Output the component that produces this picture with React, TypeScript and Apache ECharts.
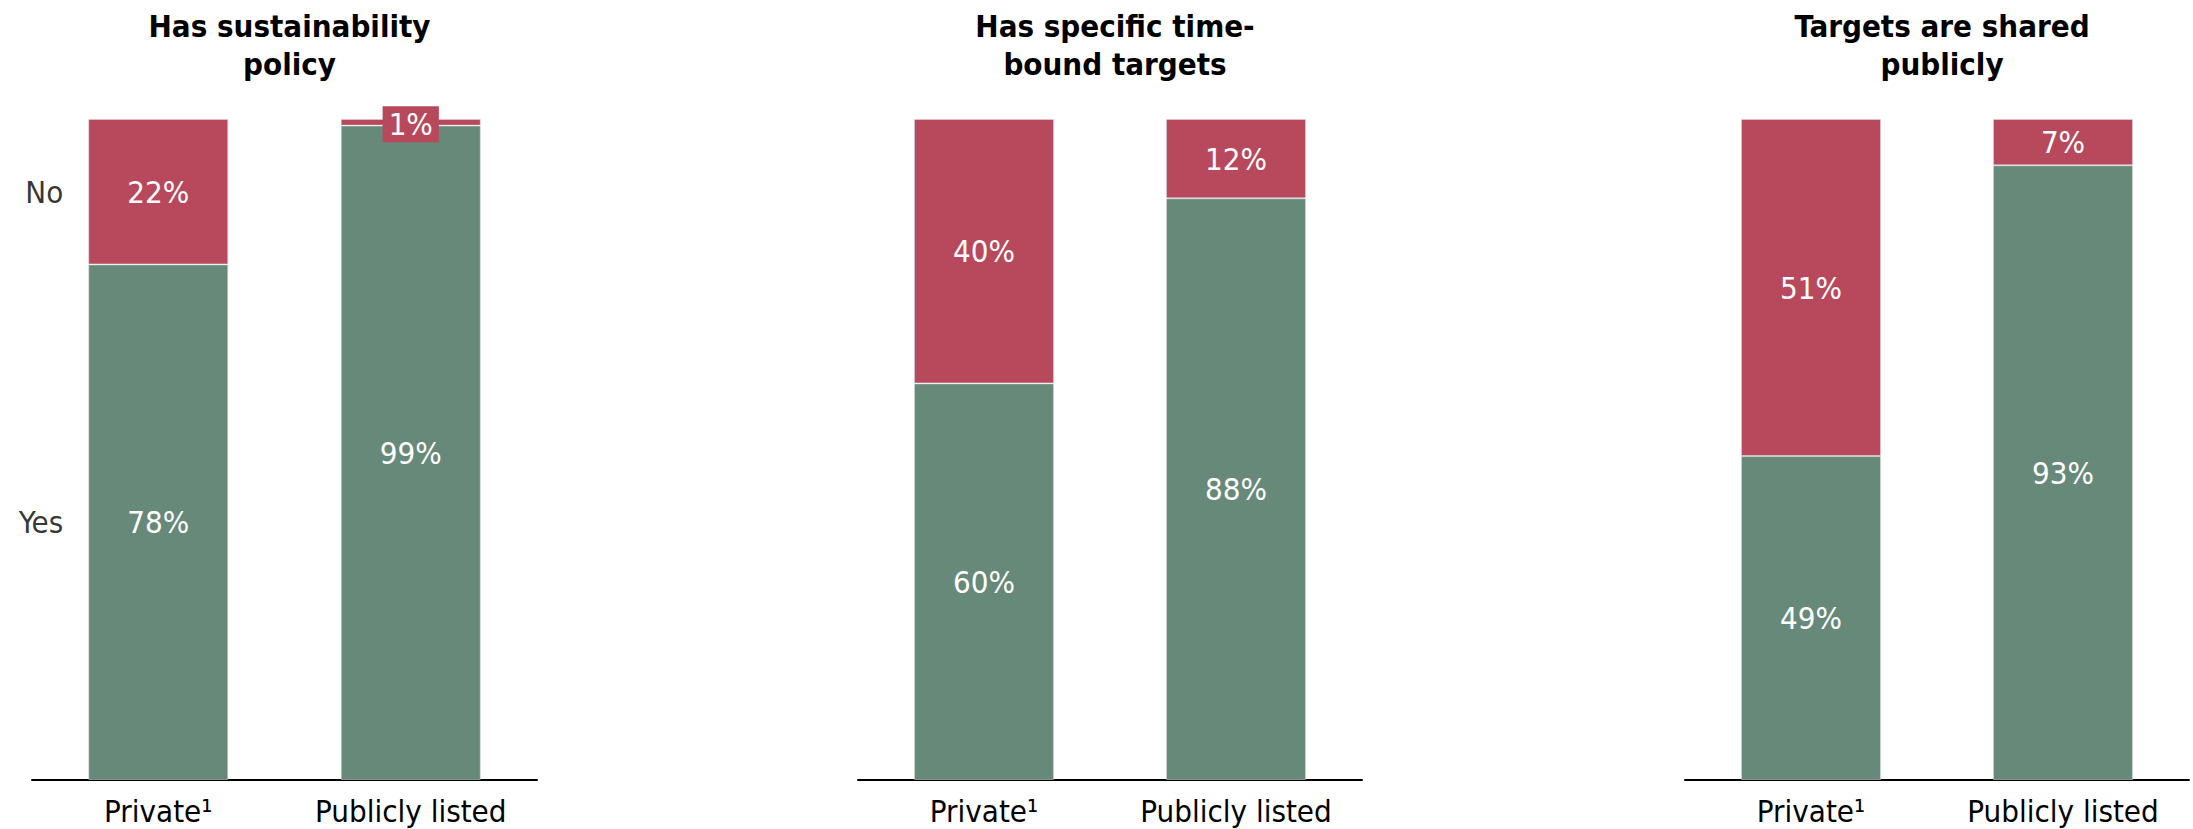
import React, { useEffect, useRef } from "react";
import * as echarts from "echarts";

const categories = ["Private¹", "Publicly listed"];
const panelTitles = [
  "Has sustainability\npolicy",
  "Has specific time-\nbound targets",
  "Targets are shared\npublicly",
];
const yesValues = [
  [78, 99],
  [60, 88],
  [49, 93],
];
const noValues = [
  [22, 1],
  [40, 12],
  [51, 7],
];
const rowLabels = ["Yes", "No"];

const RED = "#B8495C";
const GREEN = "#67897A";
const FONT = "DejaVu Sans Condensed";

const grids = [
  { left: 32, width: 505 },
  { left: 858, width: 504 },
  { left: 1685, width: 504 },
];

export default function App() {
  const ref = useRef<HTMLDivElement>(null);
  useEffect(() => {
    if (!ref.current) return;
    const chart = echarts.init(ref.current, null, { renderer: "svg" });
    const series: any[] = [];
    const valueLabel = {
      show: true,
      position: "inside",
      color: "#fff",
      fontSize: 31,
      fontFamily: FONT,
      formatter: "{c}%",
    };
    grids.forEach((g, i) => {
      series.push({
        type: "bar",
        name: "Yes",
        stack: "s" + i,
        xAxisIndex: i,
        yAxisIndex: i,
        barWidth: 140,
        itemStyle: { color: GREEN, borderColor: "rgba(220,220,220,0.5)", borderWidth: 1 },
        label: valueLabel,
        data: yesValues[i],
      });
      series.push({
        type: "bar",
        name: "No",
        stack: "s" + i,
        xAxisIndex: i,
        yAxisIndex: i,
        barWidth: 140,
        itemStyle: { color: RED, borderColor: "rgba(220,220,220,0.5)", borderWidth: 1 },
        label: valueLabel,
        data: noValues[i].map((v) =>
          v < 5
            ? {
                value: v,
                label: { backgroundColor: RED, padding: [3, 6, 2, 6], offset: [0, 2] },
              }
            : v
        ),
      });
    });
    // Row labels (Yes / No) next to the first bar of the first panel
    const y0 = yesValues[0][0];
    const n0 = noValues[0][0];
    series.push({
      type: "scatter",
      xAxisIndex: 0,
      yAxisIndex: 0,
      symbolSize: 0,
      silent: true,
      label: {
        show: true,
        position: "left",
        distance: 95,
        color: "#000",
        fontSize: 31,
        fontFamily: FONT,
        formatter: (p: any) => p.data[2],
      },
      data: [
        [0, y0 / 2, rowLabels[0]],
        [0, y0 + n0 / 2, rowLabels[1]],
      ],
    });

    chart.setOption({
      animation: false,
      title: grids.map((g, i) => ({
        text: panelTitles[i],
        left: g.left + g.width / 2,
        top: 2,
        textAlign: "center",
        textStyle: {
          fontFamily: FONT,
          fontWeight: "bold",
          fontSize: 31,
          lineHeight: 38,
          color: "#000",
        },
      })),
      grid: grids.map((g) => ({ left: g.left, width: g.width, top: 119, height: 661 })),
      xAxis: grids.map((g, i) => ({
        type: "category",
        gridIndex: i,
        data: categories,
        axisLine: { show: true, lineStyle: { color: "#000", width: 2 } },
        axisTick: { show: false },
        axisLabel: { color: "#000", fontSize: 31, fontFamily: FONT, margin: 15 },
      })),
      yAxis: grids.map((g, i) => ({
        type: "value",
        gridIndex: i,
        min: 0,
        max: 100,
        show: false,
        splitLine: { show: false },
      })),
      series,
    });
    return () => chart.dispose();
  }, []);
  return (
    <div
      ref={ref}
      style={{ position: "absolute", left: 0, top: 0, width: 2193, height: 829, background: "#fff" }}
    />
  );
}
